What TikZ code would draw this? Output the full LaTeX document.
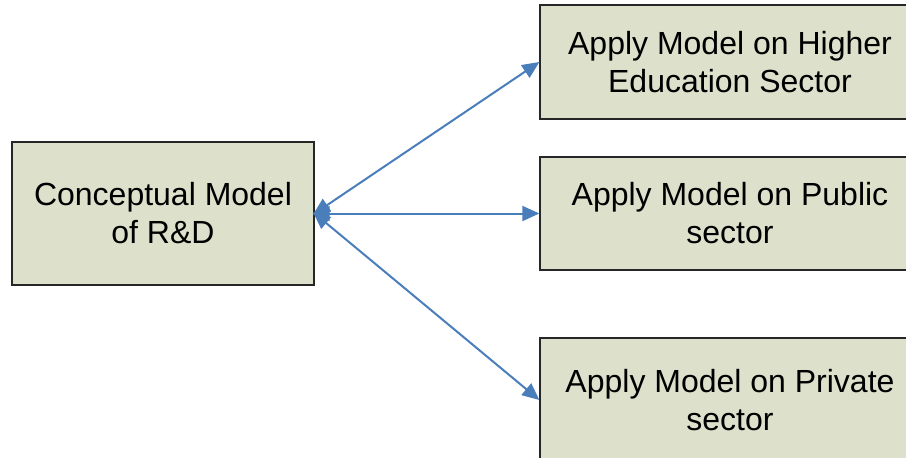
\documentclass[tikz,border=0pt]{standalone}
\usepackage{fontspec}
\setmainfont{Liberation Sans}
\usepackage{xcolor}
\usetikzlibrary{arrows.meta}
\definecolor{boxfill}{HTML}{DDE0CB}
\definecolor{linkblue}{HTML}{4A7EBB}
\tikzset{
  modelbox/.style={draw=black!85, line width=1.3pt, fill=boxfill, align=center,
    font=\fontsize{32}{38}\selectfont, inner sep=0pt},
  link/.style={linkblue, line width=2pt, {Triangle[length=17pt,width=15pt]}-{Triangle[length=17pt,width=15pt]}, shorten <=-2pt}
}
\begin{document}
\begin{tikzpicture}[x=1pt,y=-1pt]
                \useasboundingbox (0,0) rectangle (906,458);
                \clip (0,0) rectangle (906,458);
                % boxes
                \node[modelbox, minimum width=302pt, minimum height=143pt] (concept) at (163,213.5) {Conceptual Model\\of R\&D};
                \node[modelbox, minimum width=380pt, minimum height=114pt] (higher) at (730,62) {Apply Model on Higher\\Education Sector};
                \node[modelbox, minimum width=380pt, minimum height=113pt] (public) at (730,213.5) {Apply Model on Public\\sector};
                \node[modelbox, minimum width=380pt, minimum height=124pt] (private) at (730,400) {Apply Model on Private\\sector};
                % arrows
                \draw[link] (concept.east) -- (higher.west);
                \draw[link] (concept.east) -- (public.west);
                \draw[link] (concept.east) -- (private.west);
\end{tikzpicture}
\end{document}
